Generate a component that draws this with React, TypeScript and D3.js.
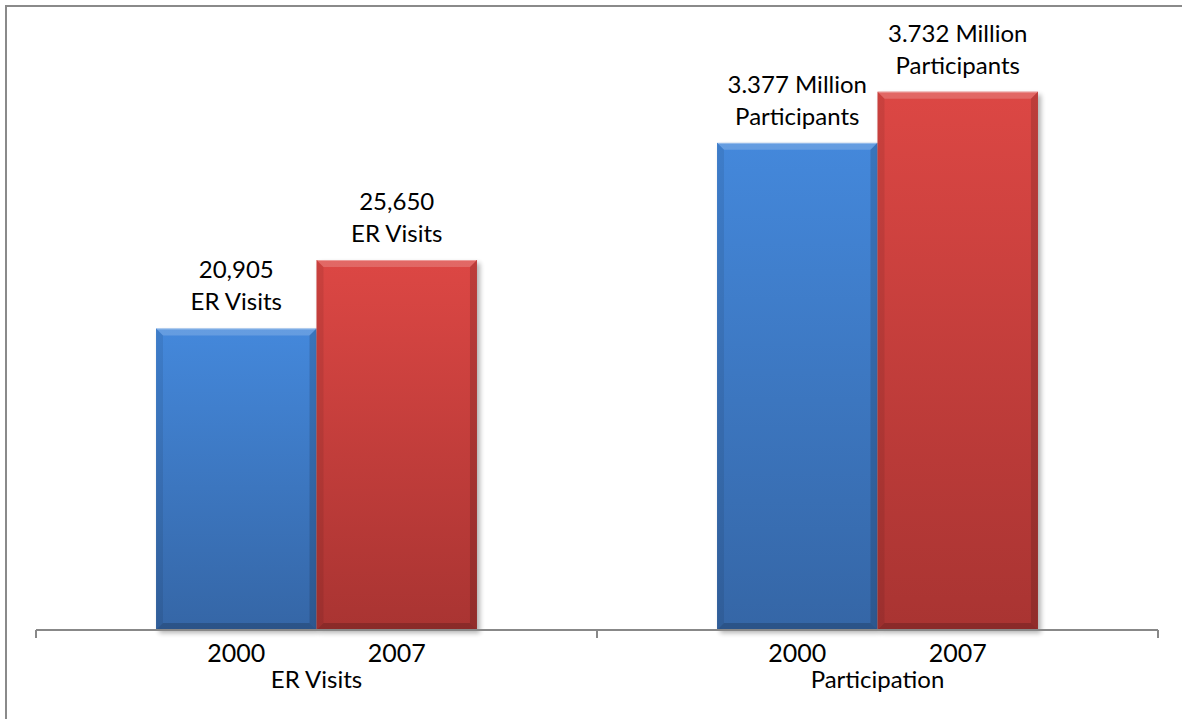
import React from "react";
import * as d3 from "d3";

const categories = ["ER Visits", "Participation"];
const years = ["2000", "2007"];
const erValues = [20905, 25650];
const participationValues = [3.377, 3.732];
const erLabels = [["20,905", "ER Visits"], ["25,650", "ER Visits"]];
const participationLabels = [["3.377 Million", "Participants"], ["3.732 Million", "Participants"]];

const W = 1182;
const H = 719;
const baseY = 630;
const topY = 53;
const FONT = "Lato, 'Open Sans', sans-serif";

const fills = [
  { top: "#4488db", bottom: "#3566a6", id: "gBlue" },
  { top: "#dc4744", bottom: "#a93432", id: "gRed" },
];

export default function App() {
  const x0 = d3.scaleBand<string>().domain(categories).range([36, 1158]).paddingInner(0).paddingOuter(0);
  const x1 = d3.scaleBand<string>().domain(years).range([0, x0.bandwidth()]).paddingInner(0).paddingOuter(0.748);
  const yER = d3.scaleLinear().domain([0, 40000]).range([baseY, topY]);
  const yPart = d3.scaleLinear().domain([0, 4]).range([baseY, topY]);

  const groups = [
    { cat: categories[0], values: erValues, scale: yER, labels: erLabels },
    { cat: categories[1], values: participationValues, scale: yPart, labels: participationLabels },
  ];

  const bw = x1.bandwidth();
  const b = 7;
  const tickXs = [36, ...categories.map((c) => (x0(c) as number) + x0.bandwidth())];

  return (
    <svg width={W} height={H} style={{ position: "absolute", left: 0, top: 0, display: "block", background: "#fff" }}>
      <defs>
        {fills.map((f) => (
          <linearGradient key={f.id} id={f.id} x1="0" y1="0" x2="0" y2="1">
            <stop offset="0%" stopColor={f.top} />
            <stop offset="100%" stopColor={f.bottom} />
          </linearGradient>
        ))}
        <filter id="shadow" x="-20%" y="-20%" width="140%" height="140%">
          <feGaussianBlur stdDeviation="2.5" />
        </filter>
      </defs>
      <path d={`M6,${H} V6 H${W}`} fill="none" stroke="#8a8a8a" strokeWidth={2} />

      {groups.map((g) =>
        g.values.map((v, i) => {
          const x = (x0(g.cat) as number) + (x1(years[i]) as number);
          const yTop = g.scale(v);
          const h = baseY - yTop;
          return (
            <g key={g.cat + i} transform={`translate(${x},${yTop})`}>
              <rect x={3} y={3} width={bw} height={h} fill="#000" opacity={0.3} filter="url(#shadow)" />
              <rect x={0} y={0} width={bw} height={h} fill={`url(#${fills[i].id})`} />
              <polygon points={`0,0 ${bw},0 ${bw - b},${b} ${b},${b}`} fill="#fff" opacity={0.18} />
              <polygon points={`0,0 ${b},${b} ${b},${h - b} 0,${h}`} fill="#000" opacity={0.08} />
              <polygon points={`${bw},0 ${bw - b},${b} ${bw - b},${h - b} ${bw},${h}`} fill="#000" opacity={0.14} />
              <polygon points={`0,${h} ${b},${h - b} ${bw - b},${h - b} ${bw},${h}`} fill="#000" opacity={0.18} />
              <line x1={1} x2={bw - 1} y1={0.5} y2={0.5} stroke="#fff" strokeOpacity={0.35} />
              {g.labels[i].map((t, k) => (
                <text
                  key={k}
                  x={bw / 2}
                  y={-18 - (g.labels[i].length - 1 - k) * 32}
                  textAnchor="middle"
                  fontFamily={FONT}
                  fontSize={24}
                  fill="#000"
                >
                  {t}
                </text>
              ))}
            </g>
          );
        })
      )}

      <line x1={36} x2={1158} y1={baseY} y2={baseY} stroke="#888" strokeWidth={2} />
      {tickXs.map((tx, i) => (
        <line key={i} x1={tx} x2={tx} y1={baseY} y2={baseY + 8} stroke="#888" strokeWidth={2} />
      ))}

      {groups.map((g) => (
        <g key={g.cat}>
          {years.map((yr) => (
            <text
              key={yr}
              x={(x0(g.cat) as number) + (x1(yr) as number) + bw / 2}
              y={662}
              textAnchor="middle"
              fontFamily={FONT}
              fontSize={25}
              fill="#000"
            >
              {yr}
            </text>
          ))}
          <text
            x={(x0(g.cat) as number) + x0.bandwidth() / 2}
            y={688}
            textAnchor="middle"
            fontFamily={FONT}
            fontSize={24}
            fill="#000"
          >
            {g.cat}
          </text>
        </g>
      ))}
    </svg>
  );
}
